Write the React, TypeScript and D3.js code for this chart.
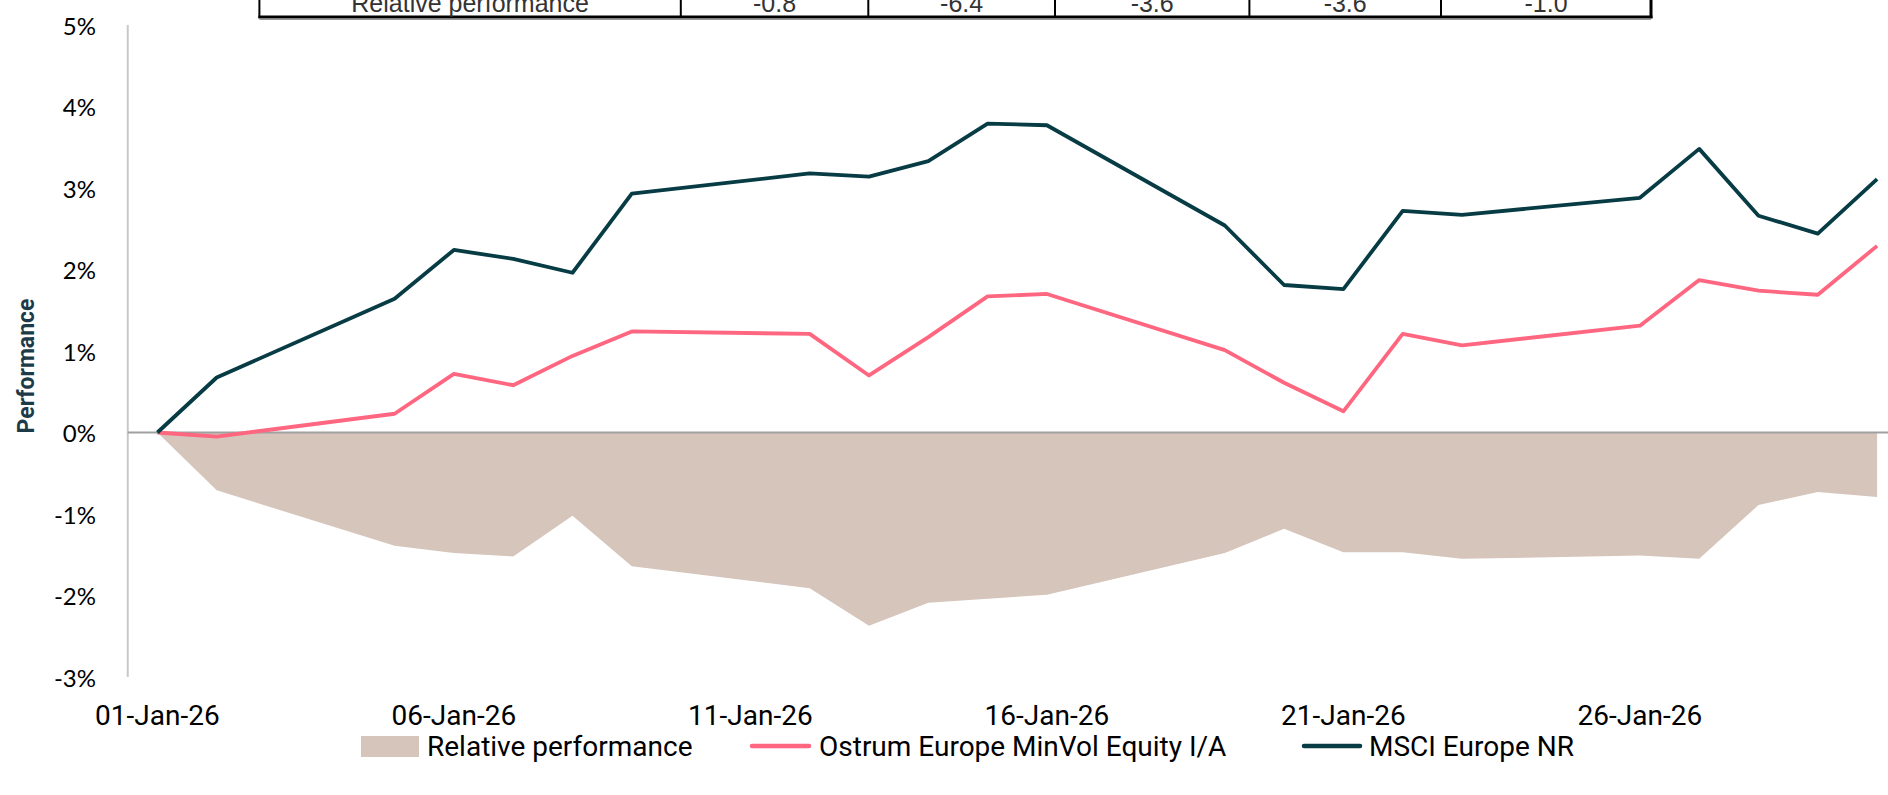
import * as d3 from 'd3'

const DATES = [
  '2026-01-01', '2026-01-02', '2026-01-05', '2026-01-06', '2026-01-07', '2026-01-08', '2026-01-09',
  '2026-01-12', '2026-01-13', '2026-01-14', '2026-01-15', '2026-01-16',
  '2026-01-19', '2026-01-20', '2026-01-21', '2026-01-22', '2026-01-23',
  '2026-01-26', '2026-01-27', '2026-01-28', '2026-01-29', '2026-01-30',
]
const OSTRUM = [0, -0.05, 0.23, 0.72, 0.58, 0.94, 1.24, 1.21, 0.70, 1.17, 1.67, 1.70, 1.01, 0.61, 0.26, 1.21, 1.07, 1.31, 1.87, 1.74, 1.69, 2.29]
const MSCI = [0, 0.675, 1.64, 2.24, 2.13, 1.96, 2.93, 3.18, 3.14, 3.33, 3.79, 3.77, 2.54, 1.81, 1.76, 2.72, 2.67, 2.88, 3.48, 2.66, 2.44, 3.11]
const RELATIVE = [0, -0.71, -1.39, -1.48, -1.52, -1.02, -1.64, -1.91, -2.37, -2.09, -2.04, -1.99, -1.48, -1.18, -1.47, -1.47, -1.55, -1.51, -1.55, -0.89, -0.73, -0.79]

const Y_TICKS = [-3, -2, -1, 0, 1, 2, 3, 4, 5]
const X_TICKS = ['2026-01-01', '2026-01-06', '2026-01-11', '2026-01-16', '2026-01-21', '2026-01-26']

const TABLE_LABEL = 'Relative performance'
const TABLE_VALUES = ['-0.8', '-6.4', '-3.6', '-3.6', '-1.0']

const SERIES_NAMES = ['Relative performance', 'Ostrum Europe MinVol Equity I/A', 'MSCI Europe NR']

const W = 1888
const H = 795
const DARK = '#073c45'
const PINK = '#ff6680'
const SAND = '#d5c5bb'

const parse = d3.utcParse('%Y-%m-%d')
const fmt = d3.utcFormat('%d-%b-%y')
const HALF_DAY = 12 * 3600 * 1000
const DAY_PX = 59.3

export default function App() {
  const dates = DATES.map(d => parse(d)!)
  const x0 = dates[0].getTime() - HALF_DAY
  const x1 = dates[dates.length - 1].getTime() + HALF_DAY
  const xScale = d3.scaleUtc().domain([x0, x1]).range([127.75, 127.75 + 30 * DAY_PX])
  const yScale = d3.scaleLinear().domain([-3, 5]).range([677, 25])

  const pts = dates.map((d, i) => ({ d, o: OSTRUM[i], m: MSCI[i], r: RELATIVE[i] }))

  const area = d3.area<typeof pts[0]>()
    .x(p => xScale(p.d))
    .y0(yScale(0))
    .y1(p => yScale(p.r))
  const lineO = d3.line<typeof pts[0]>().x(p => xScale(p.d)).y(p => yScale(p.o))
  const lineM = d3.line<typeof pts[0]>().x(p => xScale(p.d)).y(p => yScale(p.m))

  // table column edges (header table cropped at the top)
  const cols = [259.4, 680.8, 868.3, 1055, 1249.4, 1441, 1651]

  const legendY = 746
  const tickFont = 'Roboto, "Liberation Sans", sans-serif'

  return (
    <div style={{ position: 'absolute', left: 0, top: 0, width: W, height: H, overflow: 'hidden', background: '#fff' }}>
      <svg width={W} height={H} style={{ display: 'block' }}>
        {/* top table (only last row visible) */}
        <g>
          {cols.map((cx, i) => (
            <line key={i} x1={cx} x2={cx} y1={0} y2={18}
              stroke="#000" strokeWidth={i === cols.length - 1 ? 3 : 2} />
          ))}
          <line x1={cols[0] - 1} x2={cols[cols.length - 1] + 1.5} y1={17} y2={17} stroke="#000" strokeWidth={3} />
          <line x1={cols[0]} x2={cols[cols.length - 1]} y1={19.5} y2={19.5} stroke="#999" strokeWidth={1} />
          <text x={(cols[0] + cols[1]) / 2} y={11.5} textAnchor="middle"
            fontFamily='"Liberation Sans", Arial, sans-serif' fontSize={25} fill="#333">
            {TABLE_LABEL}
          </text>
          {TABLE_VALUES.map((v, i) => (
            <text key={i} x={(cols[i + 1] + cols[i + 2]) / 2} y={11.5} textAnchor="middle"
              fontFamily='"Liberation Sans", Arial, sans-serif' fontSize={25} fill="#333">
              {v}
            </text>
          ))}
        </g>

        {/* relative performance area */}
        <path d={area(pts) ?? ''} fill={SAND} />

        {/* axes */}
        <line x1={xScale(x0)} x2={xScale(x0)} y1={yScale(5)} y2={yScale(-3)} stroke="#c8c8c8" strokeWidth={2} />
        <line x1={xScale(x0)} x2={W} y1={yScale(0)} y2={yScale(0)} stroke="#a0a0a0" strokeWidth={2} />

        {Y_TICKS.map(t => (
          <text key={t} x={96} y={yScale(t)} textAnchor="end" dominantBaseline="central"
            fontFamily='Lato, "Open Sans", sans-serif' fontSize={24} fill="#000">
            {`${t}%`}
          </text>
        ))}

        {X_TICKS.map(t => {
          const d = parse(t)!
          return (
            <text key={t} x={xScale(d)} y={715} textAnchor="middle" dominantBaseline="central"
              fontFamily={tickFont} fontSize={28} fill="#000">
              {fmt(d)}
            </text>
          )
        })}

        <text transform={`translate(26.5,366) rotate(-90)`} textAnchor="middle" dominantBaseline="central"
          fontFamily={tickFont} fontWeight="bold" fontSize={23} fill="#1d3a48">
          Performance
        </text>

        {/* series lines */}
        <path d={lineO(pts) ?? ''} fill="none" stroke={PINK} strokeWidth={3.8} strokeLinejoin="round" />
        <path d={lineM(pts) ?? ''} fill="none" stroke={DARK} strokeWidth={3.8} strokeLinejoin="round" />

        {/* legend */}
        <rect x={361} y={736} width={58} height={21} fill={SAND} />
        <text x={427} y={legendY} dominantBaseline="central" fontFamily={tickFont} fontSize={28} fill="#000">
          {SERIES_NAMES[0]}
        </text>
        <line x1={752} x2={809} y1={legendY} y2={legendY} stroke={PINK} strokeWidth={4.5} strokeLinecap="round" />
        <text x={819} y={legendY} dominantBaseline="central" fontFamily={tickFont} fontSize={28} fill="#000">
          {SERIES_NAMES[1]}
        </text>
        <line x1={1304} x2={1360} y1={legendY} y2={legendY} stroke={DARK} strokeWidth={4.5} strokeLinecap="round" />
        <text x={1369} y={legendY} dominantBaseline="central" fontFamily={tickFont} fontSize={28} fill="#000">
          {SERIES_NAMES[2]}
        </text>
      </svg>
    </div>
  )
}
